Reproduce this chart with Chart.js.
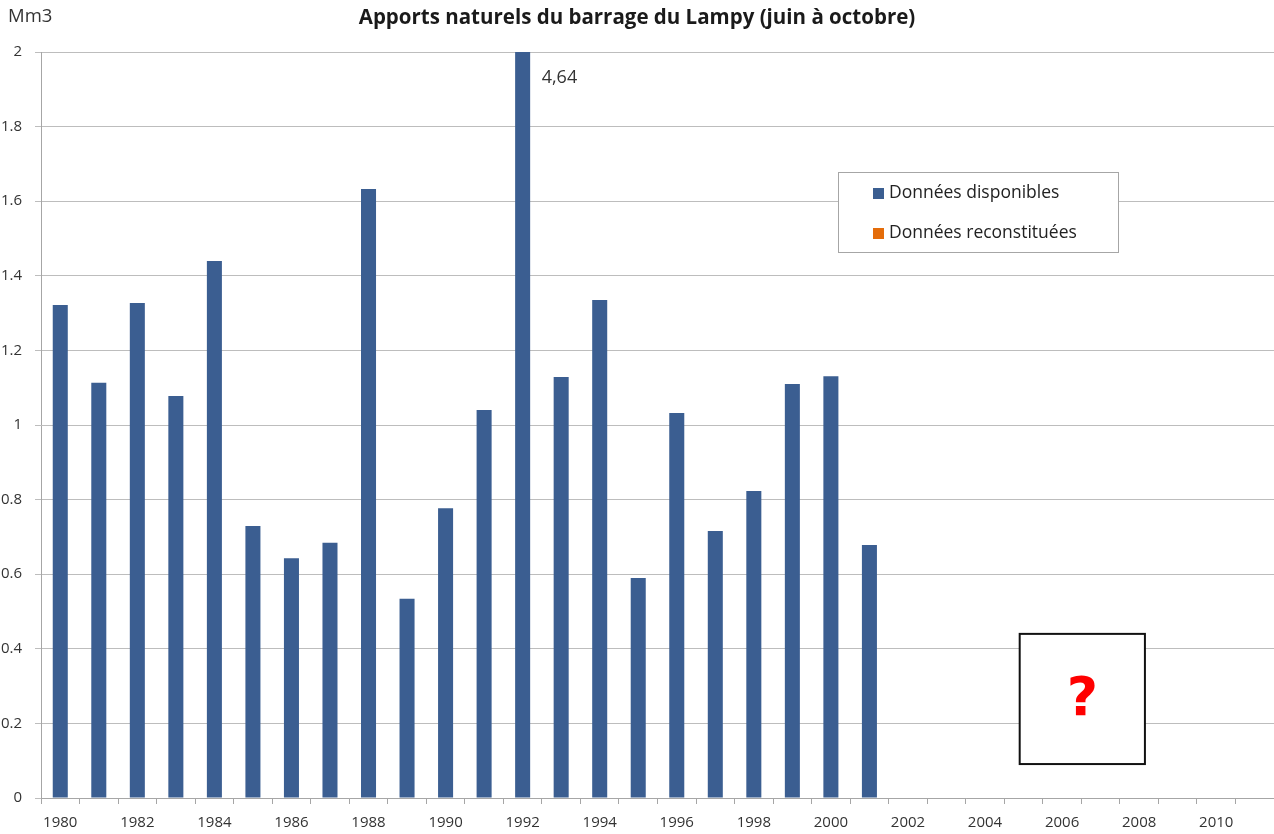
<!DOCTYPE html>
<html><head><meta charset="utf-8">
<script src="https://cdn.jsdelivr.net/npm/chart.js@4/dist/chart.umd.min.js"></script>
<style>html,body{margin:0;padding:0;background:#fff}#wrap{width:1274px;height:834px}</style>
</head><body><div id="wrap"><canvas id="c" width="1274" height="834"></canvas></div>
<script>
const years = [1980,1981,1982,1983,1984,1985,1986,1987,1988,1989,1990,1991,1992,1993,1994,1995,1996,1997,1998,1999,2000,2001,2002,2003,2004,2005,2006,2007,2008,2009,2010,2011];
const disponibles = [1.322,1.113,1.327,1.078,1.440,0.729,0.643,0.684,1.633,0.534,0.777,1.040,4.64,1.129,1.335,0.590,1.032,0.716,0.823,1.110,1.131,0.678,null,null,null,null,null,null,null,null,null,null];
const reconstituees = years.map(()=>null);
const seriesNames = ['Données disponibles','Données reconstituées'];
const yTicks = [0,0.2,0.4,0.6,0.8,1,1.2,1.4,1.6,1.8,2];
const titleText = 'Apports naturels du barrage du Lampy (juin à octobre)';
const unitText = 'Mm3';
const clippedLabel = '4,64';
const FONT = '"Open Sans", sans-serif';

const extras = {
  id:'extras',
  afterDraw(chart){
    const ctx = chart.ctx, x = chart.scales.x, y = chart.scales.y, a = chart.chartArea;
    ctx.save();
    // unit
    ctx.fillStyle='#333'; ctx.font='18.5px '+FONT; ctx.textBaseline='middle'; ctx.textAlign='left';
    ctx.fillText(unitText, 8, 17);
    // clipped value label
    const i = disponibles.findIndex(v=>v>y.max);
    if(i>=0){
      ctx.font='18px '+FONT;
      ctx.fillText(clippedLabel, x.getPixelForValue(i)+19, a.top+26);
    }
    // legend
    const lx=838, ly=172, lw=280, lh=80;
    ctx.fillStyle='#fff'; ctx.fillRect(lx,ly,lw,lh);
    ctx.strokeStyle='#a6a6a6'; ctx.lineWidth=1; ctx.strokeRect(lx+0.5,ly+0.5,lw,lh);
    chart.data.datasets.forEach((d,k)=>{
      const cy = ly+21+k*40;
      ctx.fillStyle=d.backgroundColor; ctx.fillRect(lx+35,cy-5,11,11);
      ctx.fillStyle='#222'; ctx.font='17.5px '+FONT; ctx.textAlign='left'; ctx.textBaseline='middle';
      ctx.fillText(d.label, lx+51, cy);
    });
    // question box
    const bx0 = x.getPixelForValue(24.9), bx1 = x.getPixelForValue(28.15);
    const by0 = y.getPixelForValue(0.44), by1 = y.getPixelForValue(0.091);
    ctx.fillStyle='#fff'; ctx.fillRect(bx0,by0,bx1-bx0,by1-by0);
    ctx.strokeStyle='#111'; ctx.lineWidth=2; ctx.strokeRect(bx0,by0,bx1-bx0,by1-by0);
    ctx.fillStyle='#ff0000'; ctx.font='bold 54px "DejaVu Sans", sans-serif'; ctx.textAlign='center'; ctx.textBaseline='middle';
    ctx.fillText('?', (bx0+bx1)/2, (by0+by1)/2+2);
    ctx.restore();
  }
};

new Chart(document.getElementById('c'), {
  type:'bar',
  data:{
    labels: years.map(String),
    datasets:[
      {label:seriesNames[0], data:disponibles, backgroundColor:'#3b5e91', grouped:false, barPercentage:0.39, categoryPercentage:1},
      {label:seriesNames[1], data:reconstituees, backgroundColor:'#e46c0a', grouped:false, barPercentage:0.39, categoryPercentage:1}
    ]
  },
  options:{
    responsive:false, animation:false,
    layout:{padding:{left:0,right:0,top:0,bottom:3}},
    plugins:{
      legend:{display:false}, tooltip:{enabled:false},
      title:{display:true, text:titleText, color:'#1a1a1a', font:{family:FONT, size:20.5, weight:'bold'}, padding:{top:6,bottom:21.4}}
    },
    scales:{
      x:{
        offset:true,
        afterFit:(s)=>{s.height=33;},
        grid:{offset:true, drawOnChartArea:false, drawTicks:true, tickLength:6, color:'#a6a6a6'},
        border:{color:'#a6a6a6'},
        ticks:{autoSkip:false, maxRotation:0, padding:10, color:'#333', font:{family:FONT,size:15},
          callback:(v,i)=> (years[i]%2===0 ? String(years[i]) : '')}
      },
      y:{
        min:0, max:2,
        afterFit:(s)=>{s.width=41;},
        afterBuildTicks:(s)=>{s.ticks = yTicks.map(v=>({value:v}));},
        grid:{color:'#bdbdbd', tickLength:6},
        border:{color:'#a6a6a6'},
        ticks:{padding:13, color:'#333', font:{family:FONT,size:15}, callback:(v)=> String(+v.toFixed(1))}
      }
    }
  },
  plugins:[extras]
});
</script></body></html>
